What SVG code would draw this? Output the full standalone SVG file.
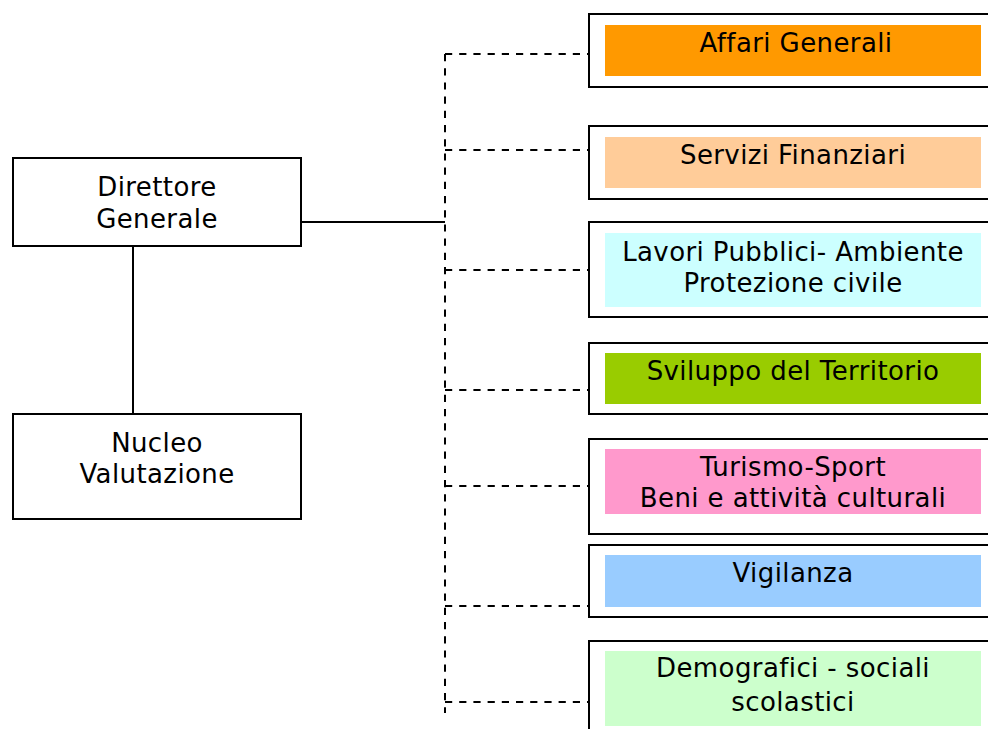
<svg xmlns="http://www.w3.org/2000/svg" width="988" height="729" viewBox="0 0 988 729">
<style>
.box{fill:#fff;stroke:#000;stroke-width:2}
.t{font-family:"DejaVu Sans","Verdana",sans-serif;font-size:26px;letter-spacing:0.4px;font-variant-ligatures:none;fill:#000;text-anchor:middle}
.solid{stroke:#000;stroke-width:2;fill:none}
.dash{stroke:#000;stroke-width:2;fill:none;stroke-dasharray:7.2 7}
</style>
<rect width="988" height="729" fill="#fff"/>
<g id="connectors">
<line class="solid" x1="301" y1="222" x2="445" y2="222"/>
<line class="solid" x1="133" y1="247" x2="133" y2="414"/>
<line class="dash" x1="445" y1="54" x2="445" y2="713"/>
<line class="dash" x1="445" y1="54" x2="589" y2="54"/>
<line class="dash" x1="445" y1="150" x2="589" y2="150"/>
<line class="dash" x1="445" y1="270" x2="589" y2="270"/>
<line class="dash" x1="445" y1="390" x2="589" y2="390"/>
<line class="dash" x1="445" y1="486" x2="589" y2="486"/>
<line class="dash" x1="445" y1="606" x2="589" y2="606"/>
<line class="dash" x1="445" y1="702" x2="589" y2="702"/>
</g>
<g id="direttore">
<rect class="box" x="13" y="158" width="288" height="88"/>
<text class="t" x="157" y="196">Direttore</text>
<text class="t" x="157" y="228">Generale</text>
</g>
<g id="nucleo">
<rect class="box" x="13" y="414" width="288" height="105"/>
<text class="t" x="157" y="452">Nucleo</text>
<text class="t" x="157" y="483">Valutazione</text>
</g>
<g id="affari">
<rect class="box" x="589" y="14" width="420" height="73"/>
<rect x="605" y="25" width="376" height="51" fill="#FF9900"/>
<text class="t" x="796" y="52">Affari Generali</text>
</g>
<g id="finanziari">
<rect class="box" x="589" y="126" width="420" height="73"/>
<rect x="605" y="137" width="376" height="51" fill="#FFCC99"/>
<text class="t" x="793" y="164">Servizi Finanziari</text>
</g>
<g id="lavori">
<rect class="box" x="589" y="222" width="420" height="95"/>
<rect x="605" y="233" width="376" height="74" fill="#CCFFFF"/>
<text class="t" x="793" y="261">Lavori Pubblici- Ambiente</text>
<text class="t" x="793" y="292">Protezione civile</text>
</g>
<g id="sviluppo">
<rect class="box" x="589" y="343" width="420" height="71"/>
<rect x="605" y="353" width="376" height="51" fill="#99CC00"/>
<text class="t" x="793" y="380">Sviluppo del Territorio</text>
</g>
<g id="turismo">
<rect class="box" x="589" y="439" width="420" height="95"/>
<rect x="605" y="449" width="376" height="65" fill="#FF99CC"/>
<text class="t" x="793" y="476">Turismo-Sport</text>
<text class="t" x="793" y="507">Beni e attività culturali</text>
</g>
<g id="vigilanza">
<rect class="box" x="589" y="545" width="420" height="72"/>
<rect x="605" y="555" width="376" height="52" fill="#99CCFF"/>
<text class="t" x="793" y="582">Vigilanza</text>
</g>
<g id="demografici">
<rect class="box" x="589" y="641" width="420" height="110"/>
<rect x="605" y="651" width="376" height="75" fill="#CCFFCC"/>
<text class="t" x="793" y="677">Demografici - sociali</text>
<text class="t" x="793" y="711">scolastici</text>
</g>
</svg>
